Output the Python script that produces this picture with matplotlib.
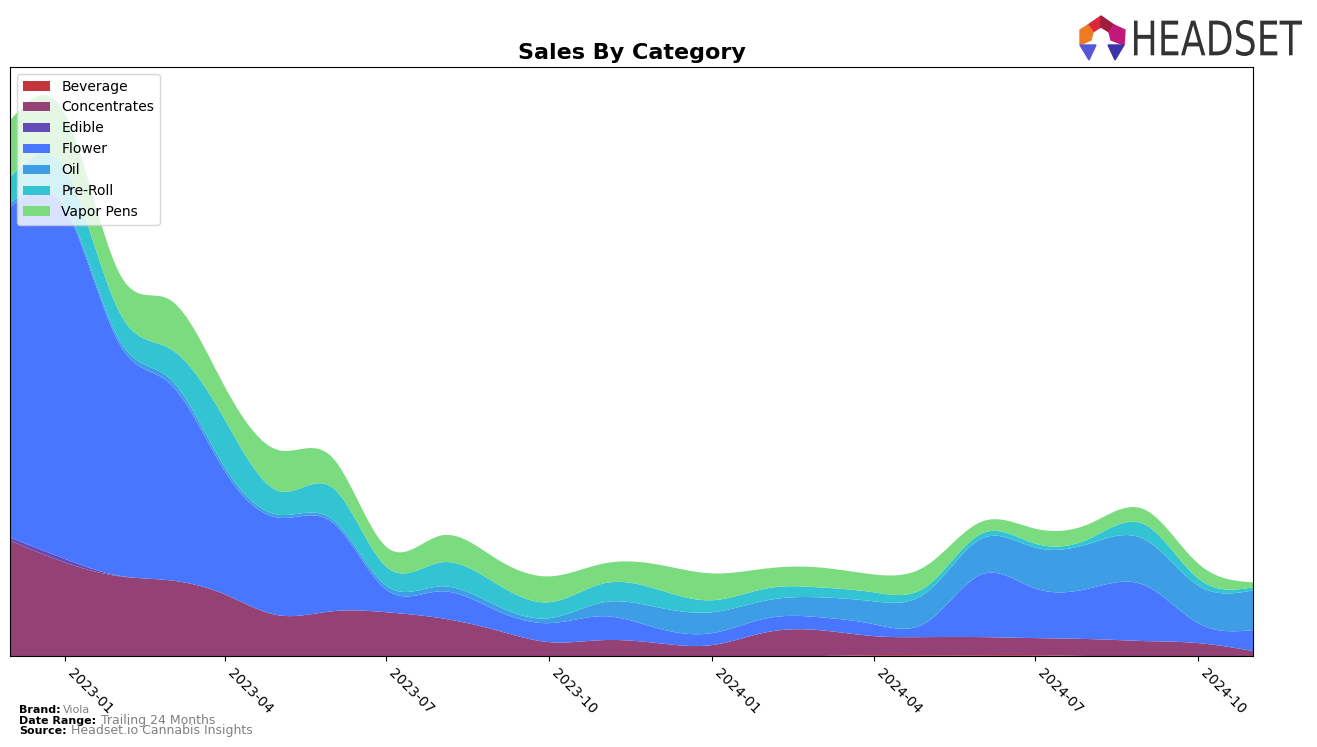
import numpy as np
import pandas as pd
import matplotlib
matplotlib.use("Agg")
import matplotlib.pyplot as plt
import matplotlib.dates as mdates
from matplotlib.patches import Polygon, PathPatch
from matplotlib.textpath import TextPath
from matplotlib.font_manager import FontProperties
from matplotlib.transforms import Affine2D, IdentityTransform

# monthly sales by category (arbitrary units)
months = pd.date_range("2022-12-01", "2024-11-01", freq="MS")
categories = ["Beverage", "Concentrates", "Edible", "Flower", "Oil", "Pre-Roll", "Vapor Pens"]
beverage = [0, 0, 0, 0, 0, 0, 0, 0, 0, 0, 0, 0, 0, 0, 0, 0, 0.8, 0.8, 0.8, 0.8, 0, 0, 0, 0]
concentrates = [116, 94, 80, 76, 62, 41, 45, 44, 38, 26, 14, 16, 13, 11, 24, 26,
                19.2, 18.2, 18.2, 17.2, 17, 15, 13, 5]
edible = [3, 3.5, 0.5, 0, 0, 0, 0, 0, 0, 0, 0, 0, 0, 0, 0, 0, 0, 0, 0, 0, 0, 0, 0, 0]
flower = [332, 352, 232, 198, 124, 98, 89, 23, 27, 20, 19, 24, 15, 12, 14, 13,
          12, 15, 63, 50, 51, 56, 20, 21]
oil = [4, 3, 4, 5, 4, 3, 3, 4, 5, 5, 5, 14, 21, 21, 18, 20, 23, 30, 36, 41, 45, 46, 38, 40]
pre_roll = [26, 37, 28, 30, 48, 24, 32, 19, 24, 22, 16, 19, 18, 12, 12, 10, 9, 6, 5, 4, 5, 15, 7, 3]
vapor_pens = [57, 55, 39, 49, 33, 41, 30, 20, 27, 25, 26, 20, 25, 27, 20, 20, 18, 21, 12, 15, 15, 15, 15, 5]

colors = ["#c4363b", "#944176", "#6449b8", "#4876ff", "#3d9ee6", "#33c4d3", "#7bdc7f"]


def natural_spline(x, y, xs):
    """Natural cubic spline, numpy only."""
    x = np.asarray(x, float)
    y = np.asarray(y, float)
    n = len(x)
    h = np.diff(x)
    A = np.zeros((n, n))
    b = np.zeros(n)
    A[0, 0] = A[-1, -1] = 1
    for i in range(1, n - 1):
        A[i, i - 1] = h[i - 1]
        A[i, i] = 2 * (h[i - 1] + h[i])
        A[i, i + 1] = h[i]
        b[i] = 3 * ((y[i + 1] - y[i]) / h[i] - (y[i] - y[i - 1]) / h[i - 1])
    c = np.linalg.solve(A, b)
    idx = np.clip(np.searchsorted(x, xs) - 1, 0, n - 2)
    dx = xs - x[idx]
    bb = (y[idx + 1] - y[idx]) / h[idx] - h[idx] * (2 * c[idx] + c[idx + 1]) / 3
    d = (c[idx + 1] - c[idx]) / (3 * h[idx])
    return y[idx] + bb * dx + c[idx] * dx ** 2 + d * dx ** 3


x_num = mdates.date2num(months)
x_fine = np.linspace(x_num[0], x_num[-1], 600)
series = [beverage, concentrates, edible, flower, oil, pre_roll, vapor_pens]
smooth = [np.clip(natural_spline(x_num, s, x_fine), 0, None) for s in series]

fig = plt.figure(figsize=(13.17, 7.47), dpi=100)
ax = fig.add_axes([0.0076, 0.1218, 0.9438, 0.7885])

ax.stackplot(mdates.num2date(x_fine), *smooth, labels=categories, colors=colors)
total = np.sum(smooth, axis=0)
ax.set_xlim(mdates.num2date(x_num[0]), mdates.num2date(x_num[-1]))
ax.set_ylim(0, total.max() * 1.05)
ax.set_yticks([])

ax.xaxis.set_major_locator(mdates.MonthLocator(bymonth=[1, 4, 7, 10]))
ax.xaxis.set_major_formatter(mdates.DateFormatter("%Y-%m"))
plt.setp(ax.get_xticklabels(), rotation=-45, ha="left", fontsize=10)

ax.set_title("Sales By Category", fontsize=16, fontweight="bold")
ax.legend(loc="upper left", fontsize=10, framealpha=0.8)

# footer
fig.text(0.0144, 0.045, "Brand:", fontsize=8, fontweight="bold")
fig.text(0.048, 0.045, "Viola", fontsize=8, color="gray")
fig.text(0.0144, 0.031, "Date Range:", fontsize=8, fontweight="bold")
fig.text(0.077, 0.031, "Trailing 24 Months", fontsize=9, color="gray")
fig.text(0.0144, 0.017, "Source:", fontsize=8, fontweight="bold")
fig.text(0.054, 0.017, "Headset.io Cannabis Insights", fontsize=9, color="gray")

# logo (pixel coordinates, y measured from the top)
W, H = 1317, 747


def px(pts):
    return [(x / W, 1 - y / H) for x, y in pts]


logo = [
    ([(1088, 25), (1101, 16), (1101, 27), (1093, 32)], "#d8283c"),
    ([(1101, 16), (1114, 25), (1109, 32), (1101, 27)], "#9e1c3c"),
    ([(1114, 25), (1125, 30), (1124, 45), (1111, 40), (1109, 32)], "#c2187a"),
    ([(1088, 25), (1080, 30), (1080, 45), (1091, 40), (1093, 32)], "#f07a22"),
    ([(1080, 45), (1096, 45), (1089, 60)], "#5a55d8"),
    ([(1108, 45), (1124, 45), (1115, 60)], "#3a34a8"),
]
for pts, c in logo:
    fig.patches.append(Polygon(px(pts), closed=True, color=c, transform=fig.transFigure))

tp = TextPath((0, 0), "HEADSET", size=50, prop=FontProperties(family="DejaVu Sans"))
ext = tp.get_extents()
x0, x1, ytop, ybot = 1134, 1302, 20, 56
sx = (x1 - x0) / ext.width
sy = (ybot - ytop) / ext.height
tr = Affine2D().translate(-ext.x0, -ext.y0).scale(sx, sy).translate(x0, H - ybot)
fig.patches.append(PathPatch(tr.transform_path(tp), color="#333333", lw=0,
                             transform=IdentityTransform()))

fig.savefig("out.png", dpi=100)
